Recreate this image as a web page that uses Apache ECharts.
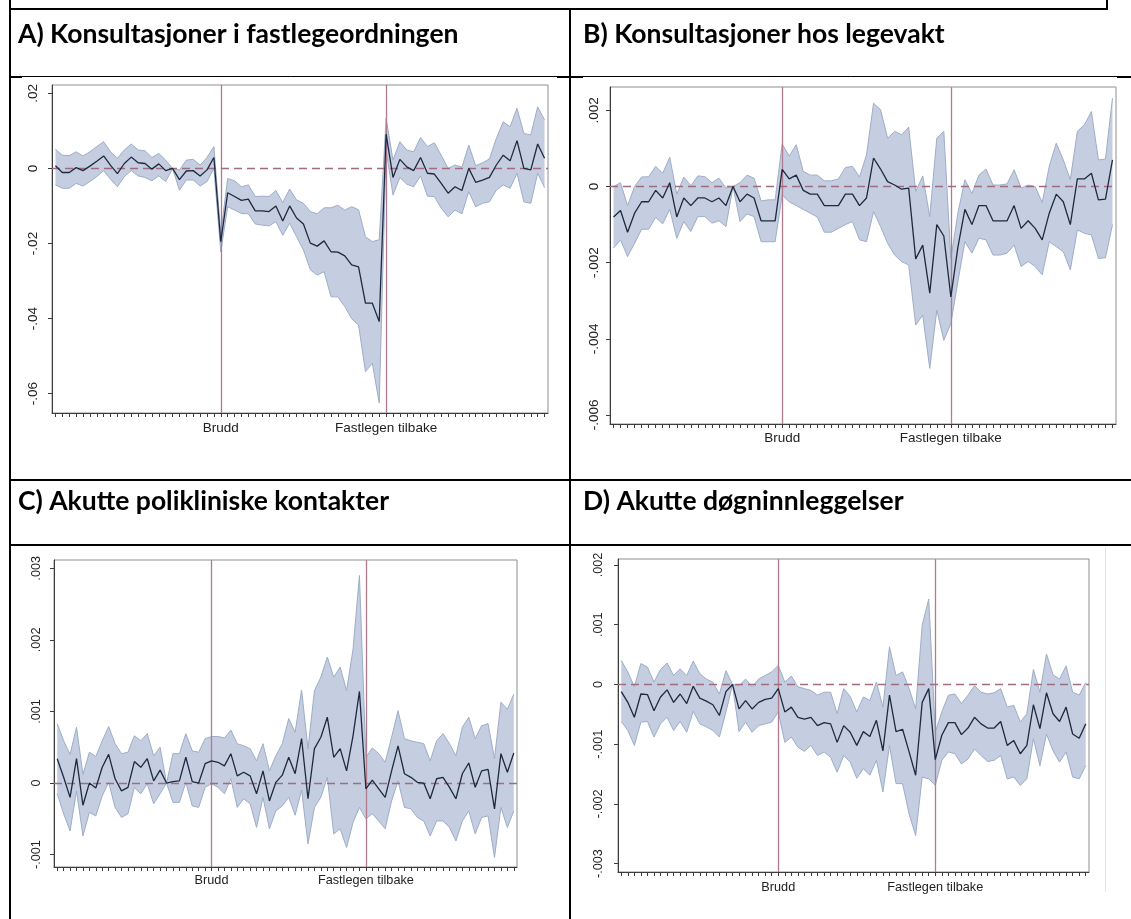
<!DOCTYPE html>
<html>
<head>
<meta charset="utf-8">
<script src="https://cdn.jsdelivr.net/npm/echarts@6/dist/echarts.min.js"></script>
<style>
  html, body { margin: 0; padding: 0; background: #ffffff; }
  #chart { width: 1131px; height: 919px; }
</style>
</head>
<body>
<div id="chart"></div>
<script>
// Relative period (weeks); 0 = break, 24 = regular GP back
const periods = [-24,-23,-22,-21,-20,-19,-18,-17,-16,-15,-14,-13,-12,-11,-10,-9,-8,-7,-6,-5,-4,-3,-2,-1,
  0,1,2,3,4,5,6,7,8,9,10,11,12,13,14,15,16,17,18,19,20,21,22,23,
  24,25,26,27,28,29,30,31,32,33,34,35,36,37,38,39,40,41,42,43,44,45,46,47];
const xLabelPeriods = [0, 24];
const xLabelTexts = ['Brudd', 'Fastlegen tilbake'];

const panelTitles = [
  'A) Konsultasjoner i fastlegeordningen',
  'B) Konsultasjoner hos legevakt',
  'C) Akutte polikliniske kontakter',
  'D) Akutte døgninnleggelser'
];

// A) GP consultations
const aEst = [0.0007,-0.0011,-0.0011,0.0002,-0.0006,0.0006,0.0019,0.0033,0.0008,-0.0014,0.0013,0.0030,0.0015,0.0013,-0.0002,0.0012,-0.0006,0,-0.0030,-0.0007,-0.0006,-0.0020,-0.0004,0.0029,
  -0.0195,-0.0065,-0.0075,-0.0085,-0.0082,-0.0113,-0.0113,-0.0115,-0.0100,-0.0140,-0.0100,-0.0132,-0.0148,-0.0199,-0.0207,-0.0193,-0.0222,-0.0223,-0.0233,-0.0257,-0.0262,-0.0359,-0.0359,-0.0408,
  0.0091,-0.0024,0.0024,0.0004,-0.0006,0.0029,-0.0013,-0.0015,-0.0040,-0.0066,-0.0049,-0.0059,0.0000,-0.0037,-0.0031,-0.0024,0.0009,0.0035,0.0020,0.0074,0.0000,-0.0004,0.0065,0.0027];
const aHi = [0.0051,0.0035,0.0034,0.0044,0.0033,0.0044,0.0058,0.0071,0.0044,0.0027,0.0049,0.0065,0.0049,0.0047,0.0029,0.0040,0.0022,0,-0.0004,0.0022,0.0024,0.0009,0.0029,0.0058,
  -0.0173,-0.0027,-0.0033,-0.0049,-0.0044,-0.0075,-0.0074,-0.0075,-0.0059,-0.0091,-0.0055,-0.0084,-0.0093,-0.0115,-0.0121,-0.0105,-0.0105,-0.0098,-0.0111,-0.0102,-0.0110,-0.0182,-0.0195,-0.0190,
  0.0133,0.0022,0.0071,0.0049,0.0044,0.0082,0.0058,0.0068,0.0035,0.0000,0.0009,0.0003,0.0062,0.0007,0.0015,0.0025,0.0080,0.0124,0.0111,0.0160,0.0093,0.0089,0.0164,0.0129];
const aLo = [-0.0044,-0.0053,-0.0053,-0.0040,-0.0047,-0.0035,-0.0022,-0.0006,-0.0029,-0.0049,-0.0022,-0.0006,-0.0020,-0.0024,-0.0033,-0.0020,-0.0035,0,-0.0058,-0.0031,-0.0031,-0.0047,-0.0035,0.0000,
  -0.0222,-0.0102,-0.0111,-0.0120,-0.0121,-0.0148,-0.0151,-0.0153,-0.0142,-0.0178,-0.0146,-0.0182,-0.0217,-0.0270,-0.0284,-0.0275,-0.0342,-0.0342,-0.0368,-0.0400,-0.0417,-0.0541,-0.0519,-0.0625,
  0.0049,-0.0071,-0.0024,-0.0042,-0.0049,-0.0020,-0.0074,-0.0075,-0.0106,-0.0129,-0.0111,-0.0121,-0.0062,-0.0102,-0.0093,-0.0089,-0.0058,-0.0044,-0.0053,-0.0013,-0.0089,-0.0093,-0.0013,-0.0051];

// B) Out-of-hours consultations
const bEst = [-0.0008,-0.00063,-0.0012,-0.0007,-0.0004,-0.0004,-0.0001,-0.0003,0.0001,-0.0008,-0.0003,-0.0005,-0.0003,-0.0003,-0.0004,-0.0003,-0.0005,0,-0.0004,-0.0002,-0.0003,-0.0009,-0.0009,-0.0009,
  0.00045,0.0002,0.0003,-0.0001,-0.0002,-0.0002,-0.0005,-0.0005,-0.0005,-0.0002,-0.0002,-0.0005,-0.0003,0.00075,0.00046,0.00013,0.00004,-0.00007,-0.00004,-0.0019,-0.00154,-0.0028,-0.0010,-0.0013,
  -0.0029,-0.0016,-0.0006,-0.0010,-0.0005,-0.0005,-0.0009,-0.0009,-0.0009,-0.0005,-0.0011,-0.0009,-0.0011,-0.0014,-0.0007,-0.0002,-0.0004,-0.0010,0.0002,0.0002,0.00035,-0.00035,-0.00033,0.0007];
const bHi = [0.0000,0.0001,-0.0005,0.0000,0.00025,0.00026,0.00053,0.00035,0.00077,-0.0002,0.00025,0.00002,0.00028,0.00026,0.0001,0.00022,-0.00004,0,0.0001,0.0003,0.00022,-0.00038,-0.00035,-0.00035,
  0.00112,0.0008,0.0011,0.0004,0.0003,0.0003,0.00015,0.00015,0.0002,0.0005,0.00053,0.00025,0.00083,0.00219,0.00202,0.00127,0.00145,0.00136,0.00156,-0.00013,0.00028,-0.00079,0.00127,0.00145,
  -0.0019,-0.0007,0.00018,-0.00018,0.0003,0.00046,0.00004,0.00004,0.00007,0.00044,-0.00004,0.00004,0.0000,-0.00042,0.00053,0.00114,0.0007,0.00018,0.00145,0.00162,0.00197,0.0007,0.00072,0.00232];
const bLo = [-0.00162,-0.0014,-0.00184,-0.00149,-0.00112,-0.00112,-0.00081,-0.00098,-0.0006,-0.00136,-0.00092,-0.00118,-0.00079,-0.00079,-0.00096,-0.0009,-0.00105,0,-0.00092,-0.00072,-0.00079,-0.00145,-0.00145,-0.00145,
  -0.00022,-0.0004,-0.0005,-0.0006,-0.0007,-0.0008,-0.0012,-0.0012,-0.0011,-0.0010,-0.00092,-0.0014,-0.00145,-0.00066,-0.00105,-0.00149,-0.0018,-0.00197,-0.00206,-0.00364,-0.00338,-0.00478,-0.00325,-0.00404,
  -0.0036,-0.0025,-0.00145,-0.00175,-0.00136,-0.0014,-0.0018,-0.0018,-0.00175,-0.00154,-0.0021,-0.00197,-0.0021,-0.00232,-0.00145,-0.00158,-0.00171,-0.00219,-0.00114,-0.00123,-0.00127,-0.00189,-0.00187,-0.0010];

// C) Acute outpatient contacts
const cEst = [0.00034,0.00008,-0.0002,0.00034,-0.00031,0.0000,-0.00007,0.00022,0.0004,0.00006,-0.00011,-0.00006,0.0003,0.00022,0.00034,0.00003,0.00018,0,0.00002,0.00003,0.00036,0.00002,0.0000,0.00027,
  0.00031,0.00029,0.00024,0.00041,0.0001,0.00015,0.0001,-0.00015,0.00017,-0.00025,0.00001,0.00011,0.00036,0.00013,0.00062,-0.00022,0.00048,0.00064,0.00092,0.00036,0.00048,0.00017,0.00066,0.00128,
  -0.00008,0.00004,-0.00008,-0.0002,0.00017,0.00052,0.00013,0.00008,0.00001,0.0,-0.00022,0.00006,0.00008,-0.00006,-0.00022,0.00013,0.00028,-0.00006,0.00017,0.00019,-0.00036,0.00041,0.00015,0.00042];
const cHi = [0.00083,0.00059,0.0004,0.00078,0.00012,0.00043,0.00037,0.00059,0.00079,0.00055,0.00041,0.00043,0.00066,0.00059,0.00069,0.00038,0.0005,0,0.00041,0.00041,0.00069,0.00045,0.00043,0.00062,
  0.00065,0.00065,0.00063,0.00074,0.00055,0.00052,0.00048,0.00031,0.00055,0.00017,0.00038,0.00055,0.0009,0.00071,0.0013,0.00048,0.00129,0.00148,0.00176,0.00148,0.00162,0.00129,0.00187,0.0029,
  0.00036,0.00049,0.00041,0.00029,0.00064,0.00101,0.00062,0.00059,0.00057,0.00055,0.00031,0.00059,0.00069,0.00055,0.00038,0.00078,0.00092,0.00062,0.0008,0.00083,0.00034,0.00113,0.00103,0.00124];
const cLo = [-0.00015,-0.00043,-0.00067,-0.00011,-0.00074,-0.00041,-0.00046,-0.00018,0.00001,-0.00034,-0.00048,-0.00043,-0.00006,-0.00015,-0.00001,-0.00029,-0.00015,0,-0.00027,-0.00027,0.00001,-0.00032,-0.00034,-0.00006,
  -0.00001,-0.00006,-0.00015,0.00006,-0.00034,-0.00022,-0.00029,-0.00062,-0.0002,-0.00064,-0.00039,-0.00032,-0.0002,-0.00045,-0.0001,-0.00085,-0.00034,-0.0002,0.00008,-0.00071,-0.00064,-0.0009,-0.00055,-0.00034,
  -0.0005,-0.00043,-0.00053,-0.00064,-0.00025,0.00003,-0.00034,-0.00036,-0.00048,-0.00053,-0.00074,-0.00053,-0.00053,-0.00062,-0.00081,-0.00053,-0.00039,-0.00071,-0.00048,-0.00046,-0.00104,-0.00034,-0.00062,-0.00039];

// D) Acute inpatient admissions
const dEst = [-0.00012,-0.0003,-0.00055,-0.00016,-0.00017,-0.00044,-0.00021,-0.00009,-0.0003,-0.00016,-0.00032,-0.00003,-0.00023,-0.00028,-0.00034,-0.00052,-0.00012,0,-0.00041,-0.00027,-0.00041,-0.0003,-0.00025,-0.00023,
  -0.00007,-0.00046,-0.00038,-0.00055,-0.00058,-0.00055,-0.00069,-0.00064,-0.00066,-0.00097,-0.00069,-0.0008,-0.00102,-0.00079,-0.00087,-0.0006,-0.00111,-0.00018,-0.00079,-0.00075,-0.00113,-0.00152,-0.0003,-0.00007,
  -0.00126,-0.00085,-0.00064,-0.00064,-0.00084,-0.00073,-0.00055,-0.00066,-0.00073,-0.00073,-0.00062,-0.00102,-0.00094,-0.00116,-0.00102,-0.00034,-0.00074,-0.00014,-0.00049,-0.00062,-0.00038,-0.00083,-0.0009,-0.00066];
const dHi = [0.0004,0.00021,-0.00004,0.00035,0.00029,0.00004,0.00025,0.00036,0.00015,0.00026,0.00015,0.00039,0.00018,0.00009,0.00004,-0.00016,0.00023,0,-0.00002,0.00009,-0.00004,0.00009,0.00015,0.00021,
  0.00032,0.00004,0.00014,-0.00004,-0.00007,-0.0001,-0.00018,-0.00013,-0.00013,-0.00049,-0.00007,-0.0002,-0.00046,-0.00021,-0.00027,0.00004,-0.00038,0.00063,0.00015,0.00021,-0.00007,-0.00041,0.00099,0.00143,
  -0.0008,-0.00046,-0.00018,-0.00016,-0.00032,-0.00018,-0.00002,-0.00013,-0.00016,-0.00014,-0.00007,-0.00038,-0.00035,-0.00063,-0.00049,0.00025,-0.00013,0.00051,0.00016,0.00009,0.00031,-0.00013,-0.00018,0.00003];
const dLo = [-0.00062,-0.00077,-0.00102,-0.00063,-0.00062,-0.00088,-0.00066,-0.00055,-0.00077,-0.00062,-0.0008,-0.00045,-0.00066,-0.00071,-0.00077,-0.00088,-0.00046,0,-0.00079,-0.00063,-0.0008,-0.00069,-0.00066,-0.00063,
  -0.00046,-0.00097,-0.00088,-0.00105,-0.00112,-0.00102,-0.00119,-0.00113,-0.00122,-0.00147,-0.00119,-0.0013,-0.00157,-0.00141,-0.00152,-0.00127,-0.0018,-0.00102,-0.00166,-0.00166,-0.00217,-0.00253,-0.00155,-0.00158,
  -0.00169,-0.00127,-0.00113,-0.00116,-0.00133,-0.00125,-0.00108,-0.00119,-0.00129,-0.00127,-0.00119,-0.00158,-0.00155,-0.00169,-0.00158,-0.00091,-0.00136,-0.00083,-0.00111,-0.0013,-0.00113,-0.00155,-0.00158,-0.00136];

// y-axis tick values and their printed labels
const aYTicks = [-0.06, -0.04, -0.02, 0, 0.02];
const aYLabels = ['-.06', '-.04', '-.02', '0', '.02'];
const bYTicks = [-0.006, -0.004, -0.002, 0, 0.002];
const bYLabels = ['-.006', '-.004', '-.002', '0', '.002'];
const cYTicks = [-0.001, 0, 0.001, 0.002, 0.003];
const cYLabels = ['-.001', '0', '.001', '.002', '.003'];
const dYTicks = [-0.003, -0.002, -0.001, 0, 0.001, 0.002];
const dYLabels = ['-.003', '-.002', '-.001', '0', '.001', '.002'];

// ---- layout / styling ----
const FILL = '#c5cee0';
const EDGE = '#9dadc9';
const LINE = '#1d2940';
const REF = '#b27a8d';
const DASH = '#a16c80';
const AXIS = '#3c3c3c';
const FRAME = '#8e8e8e';
const TXT = '#222222';
const LABEL_FONT = 'Liberation Sans';

const panels = [
  { est: aEst, hi: aHi, lo: aLo, ticks: aYTicks, labels: aYLabels,
    grid: { left: 52, top: 85, width: 496, height: 328 }, min: -0.06513, max: 0.0222,
    fs: 13.5, yMargin: 11.5, xMargin: 8 },
  { est: bEst, hi: bHi, lo: bLo, ticks: bYTicks, labels: bYLabels,
    grid: { left: 610, top: 87, width: 506, height: 337 }, min: -0.00624, max: 0.002616,
    fs: 13.5, yMargin: 8.5, xMargin: 7.5 },
  { est: cEst, hi: cHi, lo: cLo, ticks: cYTicks, labels: cYLabels,
    grid: { left: 54, top: 560, width: 463, height: 307 }, min: -0.001173, max: 0.003116,
    fs: 12.7, yMargin: 11, xMargin: 7 },
  { est: dEst, hi: dHi, lo: dLo, ticks: dYTicks, labels: dYLabels,
    grid: { left: 618, top: 559, width: 471, height: 313 }, min: -0.00314, max: 0.0021,
    fs: 12.7, yMargin: 13.5, xMargin: 8.5 }
];

const labelIdx = xLabelPeriods.map(p => periods.indexOf(p));

const grids = [], xAxes = [], yAxes = [], series = [];
panels.forEach((p, k) => {
  grids.push(Object.assign({ show: true, borderColor: FRAME, borderWidth: 1, backgroundColor: '#ffffff' }, p.grid));
  xAxes.push({
    type: 'category', gridIndex: k, data: periods, boundaryGap: true,
    axisLine: { show: true, onZero: false, lineStyle: { color: AXIS, width: 1 } },
    axisTick: { show: true, alignWithLabel: true, interval: 0, length: 4, lineStyle: { color: AXIS, width: 1 } },
    axisLabel: {
      interval: (i) => labelIdx.indexOf(i) >= 0,
      formatter: (v, i) => { const j = labelIdx.indexOf(i); return j >= 0 ? xLabelTexts[j] : ''; },
      color: TXT, fontFamily: LABEL_FONT, fontSize: p.fs, margin: p.xMargin
    },
    splitLine: { show: false }
  });
  yAxes.push({
    type: 'value', gridIndex: k, min: p.min, max: p.max,
    axisLine: { show: true, onZero: false, lineStyle: { color: AXIS, width: 1 } },
    axisTick: { show: true, customValues: p.ticks, length: 4, lineStyle: { color: AXIS, width: 1 } },
    axisLabel: {
      customValues: p.ticks, rotate: 90,
      formatter: (v) => {
        let best = 0;
        p.ticks.forEach((t, j) => { if (Math.abs(t - v) < Math.abs(p.ticks[best] - v)) best = j; });
        return p.labels[best];
      },
      color: TXT, fontFamily: LABEL_FONT, fontSize: p.fs, margin: p.yMargin
    },
    splitLine: { show: false }
  });
  const width = p.hi.map((h, i) => h - p.lo[i]);
  series.push({
    type: 'line', xAxisIndex: k, yAxisIndex: k, data: p.lo, stack: 'ci' + k, stackStrategy: 'all',
    symbol: 'none', silent: true, z: 2, lineStyle: { color: EDGE, width: 1 }
  });
  series.push({
    type: 'line', xAxisIndex: k, yAxisIndex: k, data: width, stack: 'ci' + k, stackStrategy: 'all',
    symbol: 'none', silent: true, z: 2, lineStyle: { color: EDGE, width: 1 },
    areaStyle: { color: FILL, opacity: 1 }
  });
  series.push({
    type: 'line', xAxisIndex: k, yAxisIndex: k, data: p.est,
    symbol: 'none', silent: true, z: 10, lineStyle: { color: LINE, width: 1.3 },
    markLine: {
      silent: true, symbol: ['none', 'none'], label: { show: false }, z: 5, animation: false,
      data: [
        { xAxis: labelIdx[0], lineStyle: { color: REF, width: 1.3, type: 'solid' } },
        { xAxis: labelIdx[1], lineStyle: { color: REF, width: 1.3, type: 'solid' } },
        { yAxis: 0, lineStyle: { color: DASH, width: 1.3, type: [8, 5] } }
      ]
    }
  });
});

// table rules and panel headings
const K = '#000000';
const rule = (x1, y1, x2, y2, w) => ({ type: 'line', z: 100, silent: true,
  shape: { x1, y1, x2, y2 }, style: { stroke: K, lineWidth: w } });
const graphics = [
  rule(10, 0, 10, 919, 2),
  rule(570, 9, 570, 919, 2),
  rule(1107, 0, 1107, 10, 2),
  rule(10, 9, 1108, 9, 2),
  rule(10, 76.5, 1131, 76.5, 1),
  rule(10, 77, 22, 77, 2),
  rule(557, 77, 583, 77, 2),
  rule(1117, 77, 1131, 77, 2),
  rule(10, 480, 1131, 480, 2),
  rule(10, 545, 1131, 545, 2),
  { type: 'line', z: 100, silent: true, shape: { x1: 1105.5, y1: 547, x2: 1105.5, y2: 892 },
    style: { stroke: '#e4e4e4', lineWidth: 1 } }
];
const titlePos = [[18, 34], [583, 34], [18, 501], [583, 501]];
panelTitles.forEach((t, k) => {
  graphics.push({ type: 'text', z: 100, silent: true, x: titlePos[k][0], y: titlePos[k][1],
    style: { text: t, fill: '#000', font: 'bold 26.5px Lato', textVerticalAlign: 'middle', textAlign: 'left' } });
});

const chart = echarts.init(document.getElementById('chart'), null, { renderer: 'canvas' });
chart.setOption({
  animation: false,
  backgroundColor: '#ffffff',
  grid: grids, xAxis: xAxes, yAxis: yAxes, series: series,
  graphic: graphics
});
</script>
</body>
</html>
